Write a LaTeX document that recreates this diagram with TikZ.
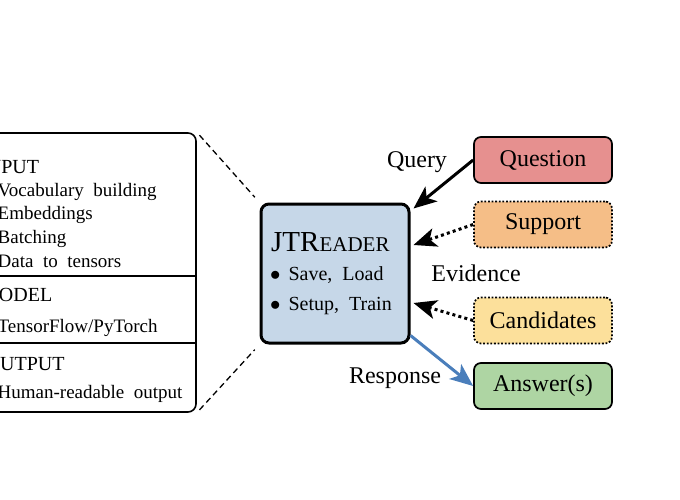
\documentclass[tikz,border=0pt]{standalone}
\usepackage{fontspec}
\setmainfont{Liberation Serif}
\usetikzlibrary{arrows.meta,calc}
\definecolor{qred}{HTML}{E6908F}
\definecolor{sorange}{HTML}{F5BE87}
\definecolor{cyellow}{HTML}{FCE09B}
\definecolor{agreen}{HTML}{AED5A3}
\definecolor{jtblue}{HTML}{C6D7E8}
\definecolor{rblue}{HTML}{4A7EBB}
\tikzset{
  rbox/.style={draw, line width=1.7pt, rounded corners=7pt, minimum width=138pt,
    minimum height=46pt, inner sep=0pt, font=\fontsize{24}{28}\selectfont},
  dotbox/.style={rbox, dash pattern=on 1.8pt off 1.8pt},
  lbl/.style={inner sep=0pt, font=\fontsize{24}{28}\selectfont},
  modtxt/.style={anchor=base west, inner sep=0pt, font=\fontsize{19}{22}\selectfont},
  modhdr/.style={anchor=base west, inner sep=0pt, font=\fontsize{20}{22}\selectfont},
  jttxt/.style={anchor=base west, inner sep=0pt, font=\fontsize{20}{24}\selectfont},
  arr/.style={line width=3pt, -{Stealth[length=23pt,width=19pt,inset=6pt]}},
  dotarr/.style={arr, dash pattern=on 3pt off 3.2pt},
  connect/.style={line width=1.3pt, dash pattern=on 6pt off 4pt}
}
\begin{document}
\begin{tikzpicture}[x=1pt,y=-1pt]
\useasboundingbox (0,0) rectangle (680,500);
% left modules box
\node[draw, line width=1.6pt, rounded corners=8pt, minimum width=256pt,
  minimum height=279pt, inner sep=0pt] (mods) at (68,272.5) {};
\draw[line width=1.4pt] (mods.west |- {0,276}) -- (mods.east |- {0,276});
\draw[line width=1.4pt] (mods.west |- {0,343}) -- (mods.east |- {0,343});
\node[modhdr] (hin) at (-20,173) {INPUT};
\node[modtxt] (i1) at (-2.5,196) {Vocabulary\ \ building};
\node[modtxt] (i2) at (-2.5,219) {Embeddings};
\node[modtxt] (i3) at (-2.5,243) {Batching};
\node[modtxt] (i4) at (-2.5,267) {Data\ \ to\ \ tensors};
\node[modhdr] (hmo) at (-19,301) {MODEL};
\node[modtxt] (m1) at (-2.5,332) {TensorFlow/PyTorch};
\node[modhdr] (hout) at (-14.5,370) {OUTPUT};
\node[modtxt] (o1) at (-2.5,398) {Human-readable\ \ output};
% JTReader
\node[draw, line width=3pt, rounded corners=8pt, fill=jtblue, minimum width=148pt,
  minimum height=139pt, inner sep=0pt] (jt) at (335,273.5) {};
\node[anchor=base west, inner sep=0pt] (jtt) at (271,251.5)
  {\fontsize{29}{32}\selectfont JTR\fontsize{21}{24}\selectfont EADER};
\node[jttxt] (j1) at (270,280.5) {$\bullet$\hspace{8pt}Save,\ \ Load};
\node[jttxt] (j2) at (270,310) {$\bullet$\hspace{8pt}Setup,\ \ Train};
% dashed zoom lines
\draw[connect, shorten <=4pt, shorten >=7pt] (mods.north east) -- (jt.north west);
\draw[connect, shorten <=4pt, shorten >=7pt] (mods.south east) -- (jt.south west);
% right boxes
\node[rbox, fill=qred] (q) at (543,160) {Question};
\node[dotbox, fill=sorange] (s) at (543,224.5) {Support};
\node[dotbox, fill=cyellow] (c) at (543,320.5) {Candidates};
\node[rbox, fill=agreen] (a) at (543,386) {Answer(s)};
% labels
\node[lbl] (lq) at (417,162) {Query};
\node[lbl] (le) at (476,273) {Evidence};
\node[lbl] (lr) at (395,378) {Response};
% arrows
\draw[arr] (q.west) -- ($(jt.north east)+(3,6)$);
\draw[dotarr] (s.west) -- ($(jt.east)+(3,-28.5)$);
\draw[dotarr] (c.west) -- ($(jt.east)+(3,29.5)$);
\draw[arr, rblue] ($(jt.south east)+(0,-9)$) -- (a.west);
\end{tikzpicture}
\end{document}
